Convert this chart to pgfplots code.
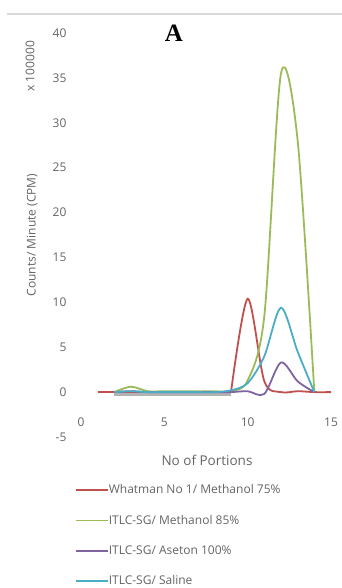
\documentclass[border=0pt]{standalone}
\usepackage{pgfplots}
\pgfplotsset{compat=1.18}
\usepackage{fontspec}
\setmainfont{Open Sans}
\newfontfamily\serifA{Liberation Serif}
\definecolor{xred}{RGB}{192,80,77}
\definecolor{xgreen}{RGB}{155,187,89}
\definecolor{xpurple}{RGB}{128,100,162}
\definecolor{xcyan}{RGB}{75,172,198}
\definecolor{txt}{RGB}{100,100,100}
\begin{document}
\begin{tikzpicture}
\begin{axis}[
  scale only axis, width=250pt, height=404pt,
  xmin=0, xmax=15, ymin=-5, ymax=40, clip=false,
  xtick={0,5,10,15}, ytick={-5,0,5,10,15,20,25,30,35,40},
  axis line style={draw=none}, major tick length=0pt,
  tick label style={font=\fontsize{12}{14}\selectfont, text=txt},
  /pgf/number format/assume math mode=true,
  yticklabel style={xshift=-11pt},
  xticklabel style={yshift=23pt},
  title={\serifA\bfseries\fontsize{25}{27}\selectfont A},
  title style={at={(rel axis cs:0.372,0.984)}, anchor=center},
  xlabel={No of Portions},
  xlabel style={at={(rel axis cs:0.504,-0.059)}, anchor=center, font=\fontsize{13.5}{15}\selectfont, text=txt},
  ylabel={Counts/ Minute (CPM)},
  ylabel style={at={(rel axis cs:-0.195,0.5)}, anchor=center, font=\fontsize{12}{14}\selectfont, text=txt},
  legend style={at={(rel axis cs:-0.024,-0.119)}, anchor=north west, draw=none, fill=none,
    inner sep=0pt, row sep=20.3pt, font=\fontsize{12}{14}\selectfont, text=txt,
    nodes={inner sep=0pt, text height=8.5pt, text depth=1.5pt}},
  legend cell align=left,
  legend image code/.code={\draw[#1, line width=1.6pt] (0pt,0pt) -- (32pt,0pt);},
  every axis plot/.append style={line width=1.8pt, tension=0.5},
]
\addplot[black, opacity=0.3, line width=3pt, forget plot] coordinates {(2,-0.3)(3,-0.3)(4,-0.3)(5,-0.3)(6,-0.3)(7,-0.3)(8,-0.3)(9,-0.3)};
\addplot[xred, forget plot] coordinates {(1,0)(2,0)(3,0)(4,0)(5,0)(6,0)(7,0)(8,0)(9,0)};
\addplot[xred, smooth, forget plot] coordinates {(9,0)(10,10.4)(11,1.2)(12,0)(13,0.1)(14,0)(15,0)};
\addplot[xgreen, smooth, forget plot] coordinates {(2,0)(3,0.6)(4,0.1)(5,0.1)(6,0.1)(7,0.1)(8,0.1)(9,0.1)(10,1.3)(11,8.5)(12,35.5)(13,28)(14,0)};
\addplot[xpurple, smooth, forget plot] coordinates {(2,0)(3,0.1)(4,0)(5,0)(6,0)(7,0)(8,0)(9,0)(10,0.1)(11,-0.2)(12,3.3)(13,1.2)(14,0)};
\addplot[xcyan, smooth, forget plot] coordinates {(2,0)(3,0.1)(4,0)(5,0)(6,0)(7,0)(8,0)(9,0.2)(10,1.0)(11,4.0)(12,9.4)(13,4.5)(14,0)};
\addlegendimage{xred}
\addlegendentry{Whatman No 1/ Methanol 75\%}
\addlegendimage{xgreen}
\addlegendentry{ITLC-SG/ Methanol 85\%}
\addlegendimage{xpurple}
\addlegendentry{ITLC-SG/ Aseton 100\%}
\addlegendimage{xcyan}
\addlegendentry{ITLC-SG/ Saline}
\node[rotate=90, anchor=center, text=txt, font=\fontsize{12}{14}\selectfont] at (rel axis cs:-0.204,0.918) {x 100000};
\end{axis}
\draw[gray!30, line width=1.5pt] (-74pt,423pt) -- (261pt,423pt);
\pgfresetboundingbox
\path (-81pt,-151pt) rectangle (261pt,437pt);
\end{tikzpicture}
\end{document}
